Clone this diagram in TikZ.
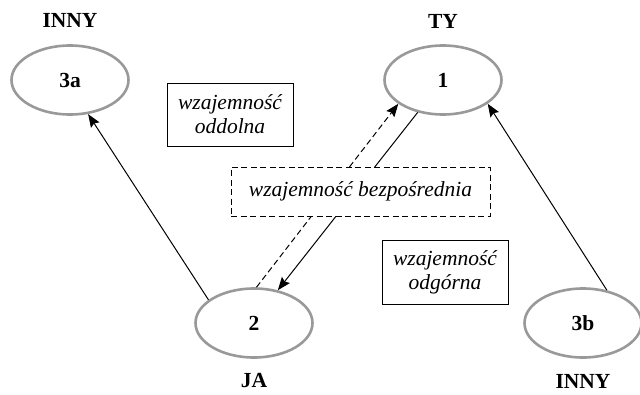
\documentclass[tikz,border=0pt]{standalone}
\usepackage{fontspec}
\setmainfont{Liberation Serif}
\usepackage{tikz}
\usetikzlibrary{arrows.meta,shapes.geometric}

\tikzset{
	osoba/.style={ellipse, draw=gray!80, line width=2.6pt, minimum width=117pt, minimum height=69pt, inner sep=0pt, font=\bfseries\fontsize{21.5}{24}\selectfont},
	podpis/.style={inner sep=1pt, font=\bfseries\fontsize{21.5}{24}\selectfont},
	ramka/.style={draw, fill=white, line width=0.9pt, inner sep=0pt, align=center, font=\itshape\fontsize{21.5}{24}\selectfont},
	kreski/.style={dash pattern=on 6pt off 3.5pt},
	strz/.style={line width=1pt, -{Stealth[length=13pt,width=10pt,inset=2pt]}}
}

\begin{document}
\begin{tikzpicture}[x=1pt,y=-1pt]
	\useasboundingbox (0,0) rectangle (640,394);
		%%  osoby  %%%%%%%%
		\node[osoba] (ty) at (443,80) {1};
		\node[osoba] (ja) at (254,323) {2};
		\node[osoba] (inny1) at (70,80) {3a};
		\node[osoba] (inny2) at (583,323) {3b};
		\node[podpis] (lty) at (443,21) {TY};
		\node[podpis] (lja) at (254,381) {JA};
		\node[podpis] (linny1) at (70,20) {INNY};
		\node[podpis] (linny2) at (583,381) {INNY};
		%%  strzalki  %%%%%%%%
		\draw[strz] (ja.153) -- (inny1.-62);
		\draw[strz] (ty.-128) -- (ja.54);
		\draw[strz, kreski] (ja.86) -- (ty.-152);
		\draw[strz] (inny2.54) -- (ty.-28);
		%%  ramki  %%%%%%%%
		\node[ramka, minimum width=126pt, minimum height=63pt] (oddolna) at (230,114.5) {wzajemność\\oddolna};
		\node[ramka, kreski, minimum width=259pt, minimum height=49pt] (bezp) at (360.5,191.5) {wzajemność bezpośrednia};
		\node[ramka, minimum width=126pt, minimum height=64pt] (odgorna) at (445,272) {wzajemność\\odgórna};
		%%%%%%%%%%%%%%%
\end{tikzpicture}
\end{document}
